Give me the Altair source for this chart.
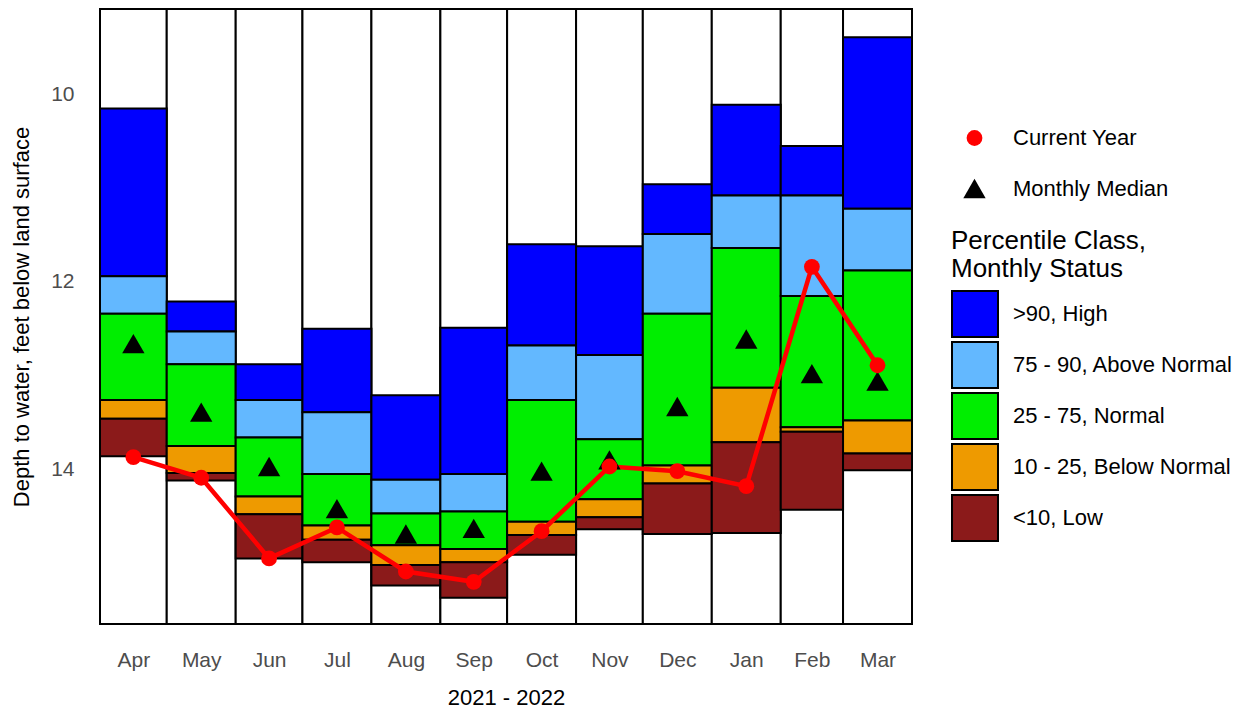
import altair as alt
import pandas as pd
from datetime import datetime

FONT = "Liberation Sans"

months = ["Apr", "May", "Jun", "Jul", "Aug", "Sep", "Oct", "Nov", "Dec", "Jan", "Feb", "Mar"]
starts = ["2021-04-01", "2021-05-01", "2021-06-01", "2021-07-01", "2021-08-01", "2021-09-01",
          "2021-10-01", "2021-11-01", "2021-12-01", "2022-01-01", "2022-02-01", "2022-03-01"]
ends = starts[1:] + ["2022-04-01"]

# percentile boundaries (depth to water, ft)
p_max = [10.15, 12.21, 12.88, 12.50, 13.21, 12.49, 11.60, 11.62, 10.96, 10.11, 10.55, 9.39]
p90 = [11.94, 12.53, 13.26, 13.39, 14.11, 14.05, 12.68, 12.78, 11.49, 11.08, 11.08, 11.22]
p75 = [12.34, 12.88, 13.66, 14.05, 14.47, 14.45, 13.26, 13.68, 12.34, 11.64, 12.15, 11.88]
p25 = [13.26, 13.75, 14.29, 14.60, 14.81, 14.85, 14.56, 14.32, 13.96, 13.13, 13.55, 13.48]
p10 = [13.46, 14.04, 14.48, 14.75, 15.02, 14.99, 14.70, 14.51, 14.15, 13.71, 13.60, 13.83]
p_min = [13.86, 14.12, 14.95, 14.99, 15.24, 15.37, 14.91, 14.64, 14.69, 14.68, 14.43, 14.01]
median = [12.66, 13.39, 13.97, 14.42, 14.69, 14.63, 14.02, 13.90, 13.33, 12.61, 12.98, 13.06]
current = [13.87, 14.09, 14.95, 14.62, 15.09, 15.20, 14.66, 13.97, 14.02, 14.18, 11.84, 12.89]

Y_TOP, Y_BOTTOM = 9.09, 15.65

classes = [">90, High", "75 - 90, Above Normal", "25 - 75, Normal",
           "10 - 25, Below Normal", "<10, Low"]
class_colors = ["#0000FF", "#63B8FF", "#00EE00", "#EE9A00", "#8B1A1A"]
series = ["Current Year", "Monthly Median"]

# ---- build tables ----
def iso(d):
    return d.strftime("%Y-%m-%dT%H:%M:%SZ")

mids = []
for s, e in zip(starts, ends):
    ds, de = datetime.fromisoformat(s), datetime.fromisoformat(e)
    mids.append(ds + (de - ds) / 2)

cols = pd.DataFrame({
    "month": months,
    "start": [s + "T00:00:00Z" for s in starts],
    "end": [e + "T00:00:00Z" for e in ends],
    "top": [Y_TOP] * len(months),
    "bottom": [Y_BOTTOM] * len(months),
})

rows = []
for i, m in enumerate(months):
    b = [p_max[i], p90[i], p75[i], p25[i], p10[i], p_min[i]]
    for k, c in enumerate(classes):
        rows.append({"month": m, "start": starts[i] + "T00:00:00Z", "end": ends[i] + "T00:00:00Z",
                     "cls": c, "top": b[k], "bottom": b[k + 1]})
bands = pd.DataFrame(rows)

pts = pd.DataFrame(
    [{"series": "Monthly Median", "mid": iso(mids[i]), "value": median[i], "order": i} for i in range(12)]
    + [{"series": "Current Year", "mid": iso(mids[i]), "value": current[i], "order": i} for i in range(12)]
)
cur = pts[pts["series"] == "Current Year"]

# ---- scales / axes ----
x_scale = alt.Scale(type="utc", nice=False,
                    domain=[alt.DateTime(year=2021, month=4, date=1, utc=True),
                            alt.DateTime(year=2022, month=4, date=1, utc=True)])
x_axis = alt.Axis(values=[alt.DateTime(year=d.year, month=d.month, date=d.day, hours=d.hour, utc=True) for d in mids],
                  format="%b", title="2021 - 2022", labelPadding=25, titlePadding=17)
y_scale = alt.Scale(domain=[Y_TOP, Y_BOTTOM], reverse=True, nice=False, zero=False)
y_axis = alt.Axis(values=[10, 12, 14], title="Depth to water, feet below land surface",
                  labelPadding=26, titlePadding=17)

X = lambda f: alt.X(f, scale=x_scale, axis=x_axis)
Y = lambda f: alt.Y(f, scale=y_scale, axis=y_axis)

white = alt.Chart(cols).mark_rect(fill="white", stroke="black", strokeWidth=2).encode(
    x=X("start:T"), x2="end:T", y=Y("top:Q"), y2="bottom:Q"
)

fill_legend = alt.Legend(
    title=["Percentile Class,", "Monthly Status"], orient="none", legendX=851, legendY=219,
    titleFont=FONT, titleFontSize=26, titleFontWeight="normal", titleColor="black",
    titleLineHeight=28, titlePadding=8, titleLimit=500, labelFont=FONT, labelFontSize=22,
    labelColor="black", labelLimit=500,
    symbolType="square", symbolSize=2116, symbolStrokeColor="black", symbolStrokeWidth=2,
    symbolOpacity=1, rowPadding=-5.75, labelOffset=14, padding=0,
)

band_chart = alt.Chart(bands).mark_rect(stroke="black", strokeWidth=2).encode(
    x=X("start:T"), x2="end:T", y=Y("top:Q"), y2="bottom:Q",
    fill=alt.Fill("cls:N", scale=alt.Scale(domain=classes, range=class_colors), legend=fill_legend),
)

line = alt.Chart(cur).mark_line(color="#FF0000", strokeWidth=4.5).encode(
    x=X("mid:T"), y=Y("value:Q"), order="order:Q"
)

pt_legend = alt.Legend(
    orient="none", legendX=863, legendY=118, labelFont=FONT, labelFontSize=22,
    labelColor="black", labelLimit=500, rowPadding=28, labelOffset=27, padding=0,
    symbolStrokeWidth=0,
)

points = alt.Chart(pts).mark_point(filled=True, opacity=1).encode(
    x=X("mid:T"), y=Y("value:Q"),
    color=alt.Color("series:N", scale=alt.Scale(domain=series, range=["#FF0000", "#000000"]),
                    legend=pt_legend, title=None),
    shape=alt.Shape("series:N", scale=alt.Scale(domain=series, range=["circle", "triangle-up"]),
                    legend=pt_legend, title=None),
    size=alt.Size("series:N", scale=alt.Scale(domain=series, range=[250, 500]),
                  legend=pt_legend, title=None),
)

chart = alt.layer(white, band_chart, line, points).properties(
    width=812, height=615,
    padding={"left": 2, "top": 0, "right": 5, "bottom": 0},
    background="white",
).configure_view(
    stroke="#333333", strokeWidth=1
).configure_axis(
    labelFont=FONT, labelFontSize=21, labelColor="#4D4D4D",
    titleFont=FONT, titleFontSize=22, titleColor="black", titleFontWeight="normal",
    grid=False, ticks=False, tickSize=0, domain=False,
)

chart.save("out.html", embed_options={"renderer": "svg", "actions": False})
